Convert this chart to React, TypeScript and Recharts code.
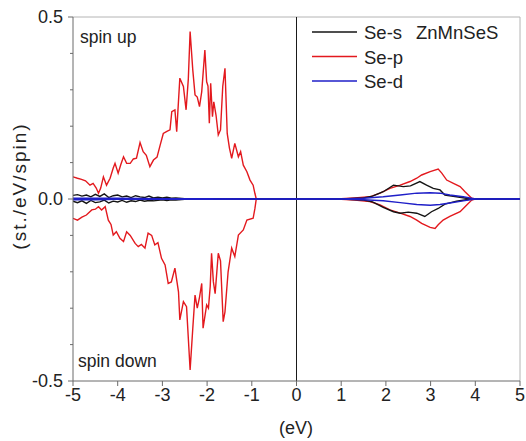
import { LineChart, Line, XAxis, YAxis, ReferenceLine } from "recharts";

const FONT = '"Liberation Sans", Arial, sans-serif';
const AXIS = "#6b6b6b";
const FRAME = "#b4b4b4";
const RED = "#e3191e";
const BLACK = "#141414";
const BLUE = "#1f1fc8";

// Se-p, spin up
const pUpE = [
  -5.0, -4.9, -4.81, -4.72, -4.62, -4.55, -4.48, -4.43, -4.38, -4.32, -4.25, -4.17, -4.1, -4.06, -3.99, -3.93,
  -3.87, -3.8, -3.72, -3.65, -3.58, -3.5, -3.43, -3.36, -3.28, -3.2, -3.12, -3.05, -2.98, -2.9, -2.83, -2.79,
  -2.72, -2.68, -2.61, -2.53, -2.47, -2.42, -2.38, -2.32, -2.27, -2.22, -2.17, -2.12, -2.05, -2.01, -1.98,
  -1.95, -1.92, -1.88, -1.85, -1.8, -1.75, -1.7, -1.65, -1.6, -1.55, -1.5, -1.45, -1.38, -1.3, -1.25, -1.19,
  -1.11, -1.04, -0.97, -0.93, -0.9, 0.6, 1.0, 1.3, 1.64, 1.87, 2.09, 2.32, 2.54, 2.69, 2.8, 2.99, 3.17, 3.25,
  3.36, 3.51, 3.66, 3.77, 3.92, 4.0, 5.0,
];
const pUpV = [
  0.061, 0.057, 0.054, 0.05, 0.038, 0.043, 0.03, 0.016, 0.03, 0.061, 0.038, 0.057, 0.085, 0.098, 0.071, 0.095,
  0.116, 0.098, 0.098, 0.11, 0.112, 0.155, 0.13, 0.12, 0.089, 0.107, 0.115, 0.148, 0.18, 0.186, 0.19, 0.24,
  0.245, 0.185, 0.332, 0.309, 0.245, 0.33, 0.46, 0.354, 0.286, 0.28, 0.254, 0.295, 0.409, 0.322, 0.31,
  0.208, 0.318, 0.226, 0.267, 0.23, 0.176, 0.19, 0.309, 0.359, 0.18, 0.14, 0.112, 0.153, 0.116, 0.13, 0.093,
  0.075, 0.052, 0.038, 0.015, 0.0, 0.0, 0.001, 0.003, 0.006, 0.016, 0.029, 0.038, 0.048, 0.057, 0.066, 0.075,
  0.082, 0.071, 0.052, 0.043, 0.034, 0.02, 0.002, 0.0, 0.0,
];

// Se-p, spin down
const pDnE = [
  -5.0, -4.9, -4.8, -4.7, -4.58, -4.5, -4.43, -4.36, -4.28, -4.21, -4.15, -4.1, -4.03, -3.95, -3.87, -3.8,
  -3.72, -3.61, -3.54, -3.47, -3.39, -3.32, -3.24, -3.17, -3.1, -3.02, -2.94, -2.87, -2.8, -2.72, -2.64, -2.61,
  -2.53, -2.46, -2.38, -2.32, -2.27, -2.22, -2.17, -2.12, -2.09, -2.01, -1.97, -1.93, -1.9, -1.86, -1.82,
  -1.75, -1.7, -1.64, -1.6, -1.53, -1.45, -1.38, -1.3, -1.19, -1.11, -0.97, -0.93, -0.9, 0.6, 1.0, 1.3, 1.64,
  1.87, 2.09, 2.32, 2.54, 2.69, 2.8, 2.99, 3.1, 3.17, 3.28, 3.43, 3.66, 3.77, 3.92, 4.0, 5.0,
];
const pDnV = [
  -0.053, -0.058, -0.05, -0.044, -0.03, -0.028, -0.021, -0.03, -0.021, -0.058, -0.07, -0.099, -0.09, -0.108,
  -0.117, -0.09, -0.1, -0.122, -0.131, -0.125, -0.135, -0.094, -0.1, -0.126, -0.12, -0.163, -0.181, -0.232,
  -0.228, -0.19, -0.255, -0.332, -0.282, -0.296, -0.47, -0.355, -0.264, -0.3, -0.27, -0.232, -0.355, -0.291,
  -0.3, -0.24, -0.149, -0.227, -0.26, -0.149, -0.17, -0.337, -0.31, -0.2, -0.135, -0.158, -0.099, -0.085,
  -0.058, -0.053, -0.026, 0.0, 0.0, -0.001, -0.003, -0.007, -0.016, -0.03, -0.039, -0.048, -0.058, -0.067,
  -0.078, -0.081, -0.071, -0.058, -0.048, -0.035, -0.021, -0.003, 0.0, 0.0,
];

// Se-s
const sUpE = [
  -5.0, -4.9, -4.8, -4.7, -4.6, -4.5, -4.4, -4.3, -4.2, -4.1, -4.0, -3.9, -3.8, -3.7, -3.6, -3.5, -3.4, -3.3,
  -3.2, -3.1, -3.0, -2.9, -2.8, -2.7, -2.5, -2.0, -1.0, 1.0, 1.5, 1.7, 1.94, 2.17, 2.39, 2.55, 2.76, 2.91, 3.06,
  3.21, 3.32, 3.58, 3.9, 5.0,
];
const sUpV = [
  0.01, 0.012, 0.008, 0.011, 0.006, 0.013, 0.007, 0.014, 0.004, 0.009, 0.011, 0.006, 0.008, 0.004, 0.009,
  0.006, 0.004, 0.008, 0.003, 0.005, 0.003, 0.005, 0.002, 0.003, 0.001, 0.001, 0.0, 0.0, 0.003, 0.008, 0.02,
  0.038, 0.034, 0.036, 0.048, 0.038, 0.029, 0.025, 0.011, 0.006, 0.0, 0.0,
];
const sDnE = [
  -5.0, -4.9, -4.8, -4.7, -4.6, -4.5, -4.4, -4.3, -4.2, -4.1, -4.0, -3.9, -3.8, -3.7, -3.6, -3.5, -3.4, -3.3,
  -3.2, -3.0, -2.9, -2.8, -2.7, -2.5, -2.0, -1.0, 1.0, 1.5, 1.7, 1.94, 2.17, 2.32, 2.5, 2.69, 2.87, 3.02, 3.17,
  3.32, 3.58, 3.9, 5.0,
];
const sDnV = [
  -0.006, -0.01, -0.005, -0.012, -0.004, -0.01, -0.008, -0.003, -0.011, -0.006, -0.008, -0.004, -0.009,
  -0.005, -0.007, -0.003, -0.006, -0.004, -0.005, -0.002, -0.004, -0.002, -0.003, -0.001, -0.001, 0.0, 0.0,
  -0.003, -0.008, -0.023, -0.035, -0.039, -0.036, -0.039, -0.048, -0.035, -0.026, -0.014, -0.006, 0.0, 0.0,
];

// Se-d
const dUpE = [-5.0, -4.5, -4.0, -3.0, -2.0, -1.0, 1.0, 1.5, 1.94, 2.32, 2.69, 2.99, 3.21, 3.43, 3.73, 4.0, 5.0];
const dUpV = [0.002, 0.002, 0.002, 0.001, 0.001, 0.0, 0.0, 0.002, 0.006, 0.011, 0.016, 0.017, 0.016, 0.011, 0.006, 0.0, 0.0];
const dDnE = [-5.0, -4.5, -4.0, -3.0, -2.0, -1.0, 1.0, 1.5, 1.94, 2.32, 2.69, 2.99, 3.21, 3.43, 3.73, 4.0, 5.0];
const dDnV = [-0.002, -0.002, -0.001, -0.001, -0.001, 0.0, 0.0, -0.002, -0.005, -0.01, -0.015, -0.017, -0.015, -0.011, -0.005, 0.0, 0.0];

const xTicks = [-5, -4, -3, -2, -1, 0, 1, 2, 3, 4, 5];
const yTicks = [-0.5, -0.4, -0.3, -0.2, -0.1, 0, 0.1, 0.2, 0.3, 0.4, 0.5];
const yLabels: Record<string, string> = { "-0.5": "-0.5", "0": "0.0", "0.5": "0.5" };

const legend = [
  { name: "Se-s", color: BLACK },
  { name: "Se-p", color: RED },
  { name: "Se-d", color: BLUE },
];

const rows = (e: number[], v: number[]) => e.map((x, i) => ({ e: x, v: v[i] }));

const series = [
  { key: "p-up", data: rows(pUpE, pUpV), color: RED },
  { key: "p-dn", data: rows(pDnE, pDnV), color: RED },
  { key: "s-up", data: rows(sUpE, sUpV), color: BLACK },
  { key: "s-dn", data: rows(sDnE, sDnV), color: BLACK },
  { key: "d-up", data: rows(dUpE, dUpV), color: BLUE },
  { key: "d-dn", data: rows(dDnE, dDnV), color: BLUE },
];

function YTick({ x, y, payload }: any) {
  const label = yLabels[String(payload.value)];
  const ax = x + 10;
  return (
    <g>
      <line x1={ax} x2={ax - (label ? 5 : 3)} y1={y} y2={y} stroke={AXIS} />
      {label && (
        <text x={x} y={y} textAnchor="end" dominantBaseline="central" fill="#222" fontSize={18} fontFamily={FONT}>
          {label}
        </text>
      )}
    </g>
  );
}

export default function App() {
  return (
    <div style={{ position: "absolute", left: 0, top: 0, width: 526, height: 441, background: "#fff" }}>
      <LineChart width={526} height={441} margin={{ top: 17, right: 6, bottom: 0, left: 0 }}>
        <XAxis
          type="number"
          dataKey="e"
          domain={[-5, 5]}
          ticks={xTicks}
          allowDataOverflow
          height={60}
          tickSize={5}
          stroke={AXIS}
          tick={{ fill: "#222", fontSize: 18, fontFamily: FONT }}
        />
        <YAxis
          type="number"
          dataKey="v"
          domain={[-0.5, 0.5]}
          ticks={yTicks}
          allowDataOverflow
          width={73}
          tickSize={5}
          tickMargin={5}
          tickLine={false}
          stroke={AXIS}
          tick={<YTick />}
        />
        <ReferenceLine y={0.5} stroke={FRAME} />
        <ReferenceLine x={5} stroke={FRAME} />
        <ReferenceLine x={0} stroke="#1a1a1a" />
        {series.map((s) => (
          <Line
            key={s.key}
            data={s.data}
            dataKey="v"
            type="linear"
            stroke={s.color}
            strokeWidth={1.4}
            dot={false}
            isAnimationActive={false}
          />
        ))}
      </LineChart>
      <svg
        width={526}
        height={441}
        style={{ position: "absolute", left: 0, top: 0, pointerEvents: "none" }}
        fontFamily={FONT}
      >
        <text x={19} y={186} transform="rotate(-90 19 186)" textAnchor="middle" dominantBaseline="central" fontSize={19} letterSpacing={2} fill="#222">
          (st./eV/spin)
        </text>
        <text x={296} y={434} textAnchor="middle" fontSize={18} fill="#222">
          (eV)
        </text>
        <text x={80} y={43} fontSize={17.5} fill="#222">
          spin up
        </text>
        <text x={78} y={367} fontSize={17.5} fill="#222">
          spin down
        </text>
        {legend.map((l, i) => (
          <g key={l.name}>
            <line x1={312} x2={357} y1={32 + i * 24.5} y2={32 + i * 24.5} stroke={l.color} strokeWidth={1.5} />
            <text x={364} y={39 + i * 24.5} fontSize={18.5} fill="#222">
              {l.name}
            </text>
          </g>
        ))}
        <text x={416} y={39} fontSize={18.5} fill="#222">
          ZnMnSeS
        </text>
      </svg>
    </div>
  );
}
